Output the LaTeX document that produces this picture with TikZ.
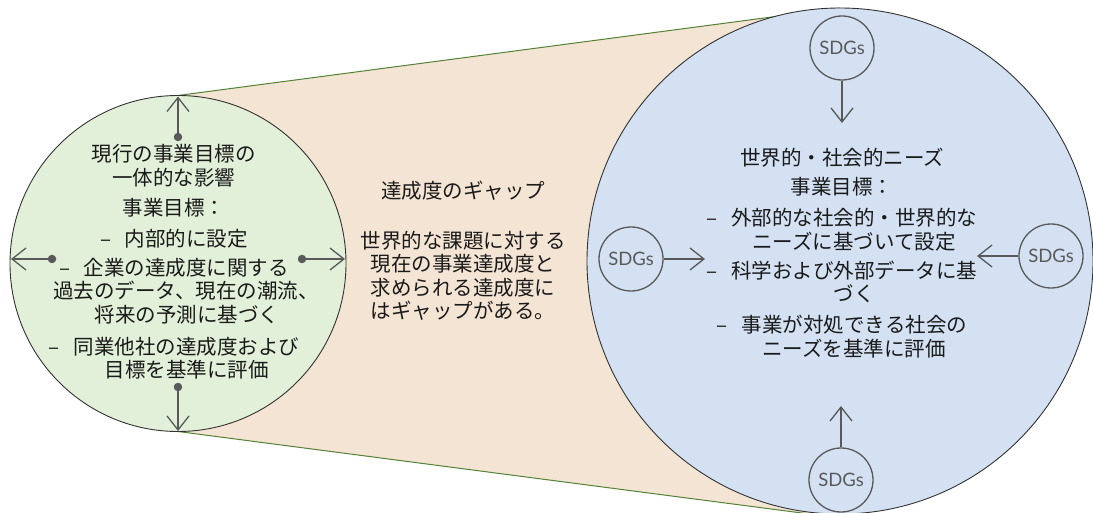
\documentclass[tikz,border=0pt]{standalone}
\usepackage{fontspec}
\setmainfont{Noto Sans CJK JP}
\newfontfamily\sdgfont{Lato}
\usetikzlibrary{arrows.meta}
\definecolor{gfill}{HTML}{E2F0D9}
\definecolor{bgfill}{HTML}{F4E4D4}
\definecolor{bfill}{HTML}{D3E1F3}
\definecolor{gline}{HTML}{538135}
\definecolor{agray}{HTML}{595959}
\definecolor{txt}{HTML}{1A1A1A}
\tikzset{
 bigcirc/.style={circle, draw=black!80, line width=0.9pt, inner sep=0pt},
 sdg/.style={circle, draw=agray, line width=1.3pt, minimum size=64pt, inner sep=0pt, font=\sdgfont\fontsize{18.5}{18.5}\selectfont, text=agray},
 arr/.style={draw=agray, line width=1.3pt, -{Straight Barb[length=14pt,width=22pt]}},
 gdot/.style={circle, fill=agray, minimum size=8.5pt, inner sep=0pt},
 body/.style={align=center, font=\fontsize{20.5}{23.5}\selectfont, text=txt, inner sep=0pt},
 edge/.style={draw=gline, line width=1pt},
}
\begin{document}
\begin{tikzpicture}[x=1pt,y=-1pt]
\useasboundingbox (0,0) rectangle (1093,513);
\coordinate (gc) at (178,263.5);
\coordinate (bc) at (840,261);
\coordinate (gtop) at (178,95.5);
\coordinate (gbot) at (178,431.5);
\coordinate (btop) at (840,8);
\coordinate (bbot) at (840,518);
\fill[bgfill] (gtop) -- (btop) -- (bbot) -- (gbot) -- cycle;
\draw[edge] (gtop) -- (btop);
\draw[edge] (gbot) -- (bbot);
\node[bigcirc, fill=gfill, minimum size=336pt] (g) at (gc) {};
\node[bigcirc, fill=bfill, minimum size=506pt] (b) at (bc) {};

% green circle arrows
\node[gdot] (gdT) at (178,137) {};
\node[gdot] (gdB) at (178,387) {};
\node[gdot] (gdL) at (52,259) {};
\node[gdot] (gdR) at (302,259) {};
\coordinate (gaT) at (178,96.5);
\coordinate (gaB) at (178,431);
\coordinate (gaL) at (11,259);
\coordinate (gaR) at (345,259);
\draw[arr] (gdT.center) -- (gaT);
\draw[arr] (gdB.center) -- (gaB);
\draw[arr] (gdL.center) -- (gaL);
\draw[arr] (gdR.center) -- (gaR);

% SDGs circles
\node[sdg] (sT) at (842,48) {SDGs};
\node[sdg] (sL) at (631,259) {SDGs};
\node[sdg] (sR) at (1051,256) {SDGs};
\node[sdg] (sB) at (841,480) {SDGs};
\coordinate (tT) at (842,123);
\coordinate (tL) at (705,259);
\coordinate (tR) at (977,256);
\coordinate (tB) at (841,406);
\draw[arr] (sT) -- (tT);
\draw[arr] (sL) -- (tL);
\draw[arr] (sR) -- (tR);
\draw[arr] (sB) -- (tB);

% texts
\node[body] (gtext) at (174,262) {現行の事業目標の\\一体的な影響\\[6.5pt]事業目標：\\[7.5pt]–\hspace{14pt}内部的に設定\\[5.5pt]–\hspace{14pt}企業の達成度に関する\\\hspace*{24pt}過去のデータ、現在の潮流、\\\hspace*{26pt}将来の予測に基づく\\[8.5pt]–\hspace{14pt}同業他社の達成度および\\\hspace*{26pt}目標を基準に評価};

\node[body] (mid) at (463,250.5) {達成度のギャップ\\[26.5pt]世界的な課題に対する\\現在の事業達成度と\\求められる達成度に\\はギャップがある。};

\node[body] (btext) at (842,253) {世界的・社会的ニーズ\\[5.5pt]事業目標：\\[7.5pt]–\hspace{14pt}外部的な社会的・世界的な\\\hspace*{24pt}ニーズに基づいて設定\\[5.5pt]–\hspace{14pt}科学および外部データに基\\\hspace*{24pt}づく\\[7.5pt]–\hspace{14pt}事業が対処できる社会の\\\hspace*{24pt}ニーズを基準に評価};
\end{tikzpicture}
\end{document}
